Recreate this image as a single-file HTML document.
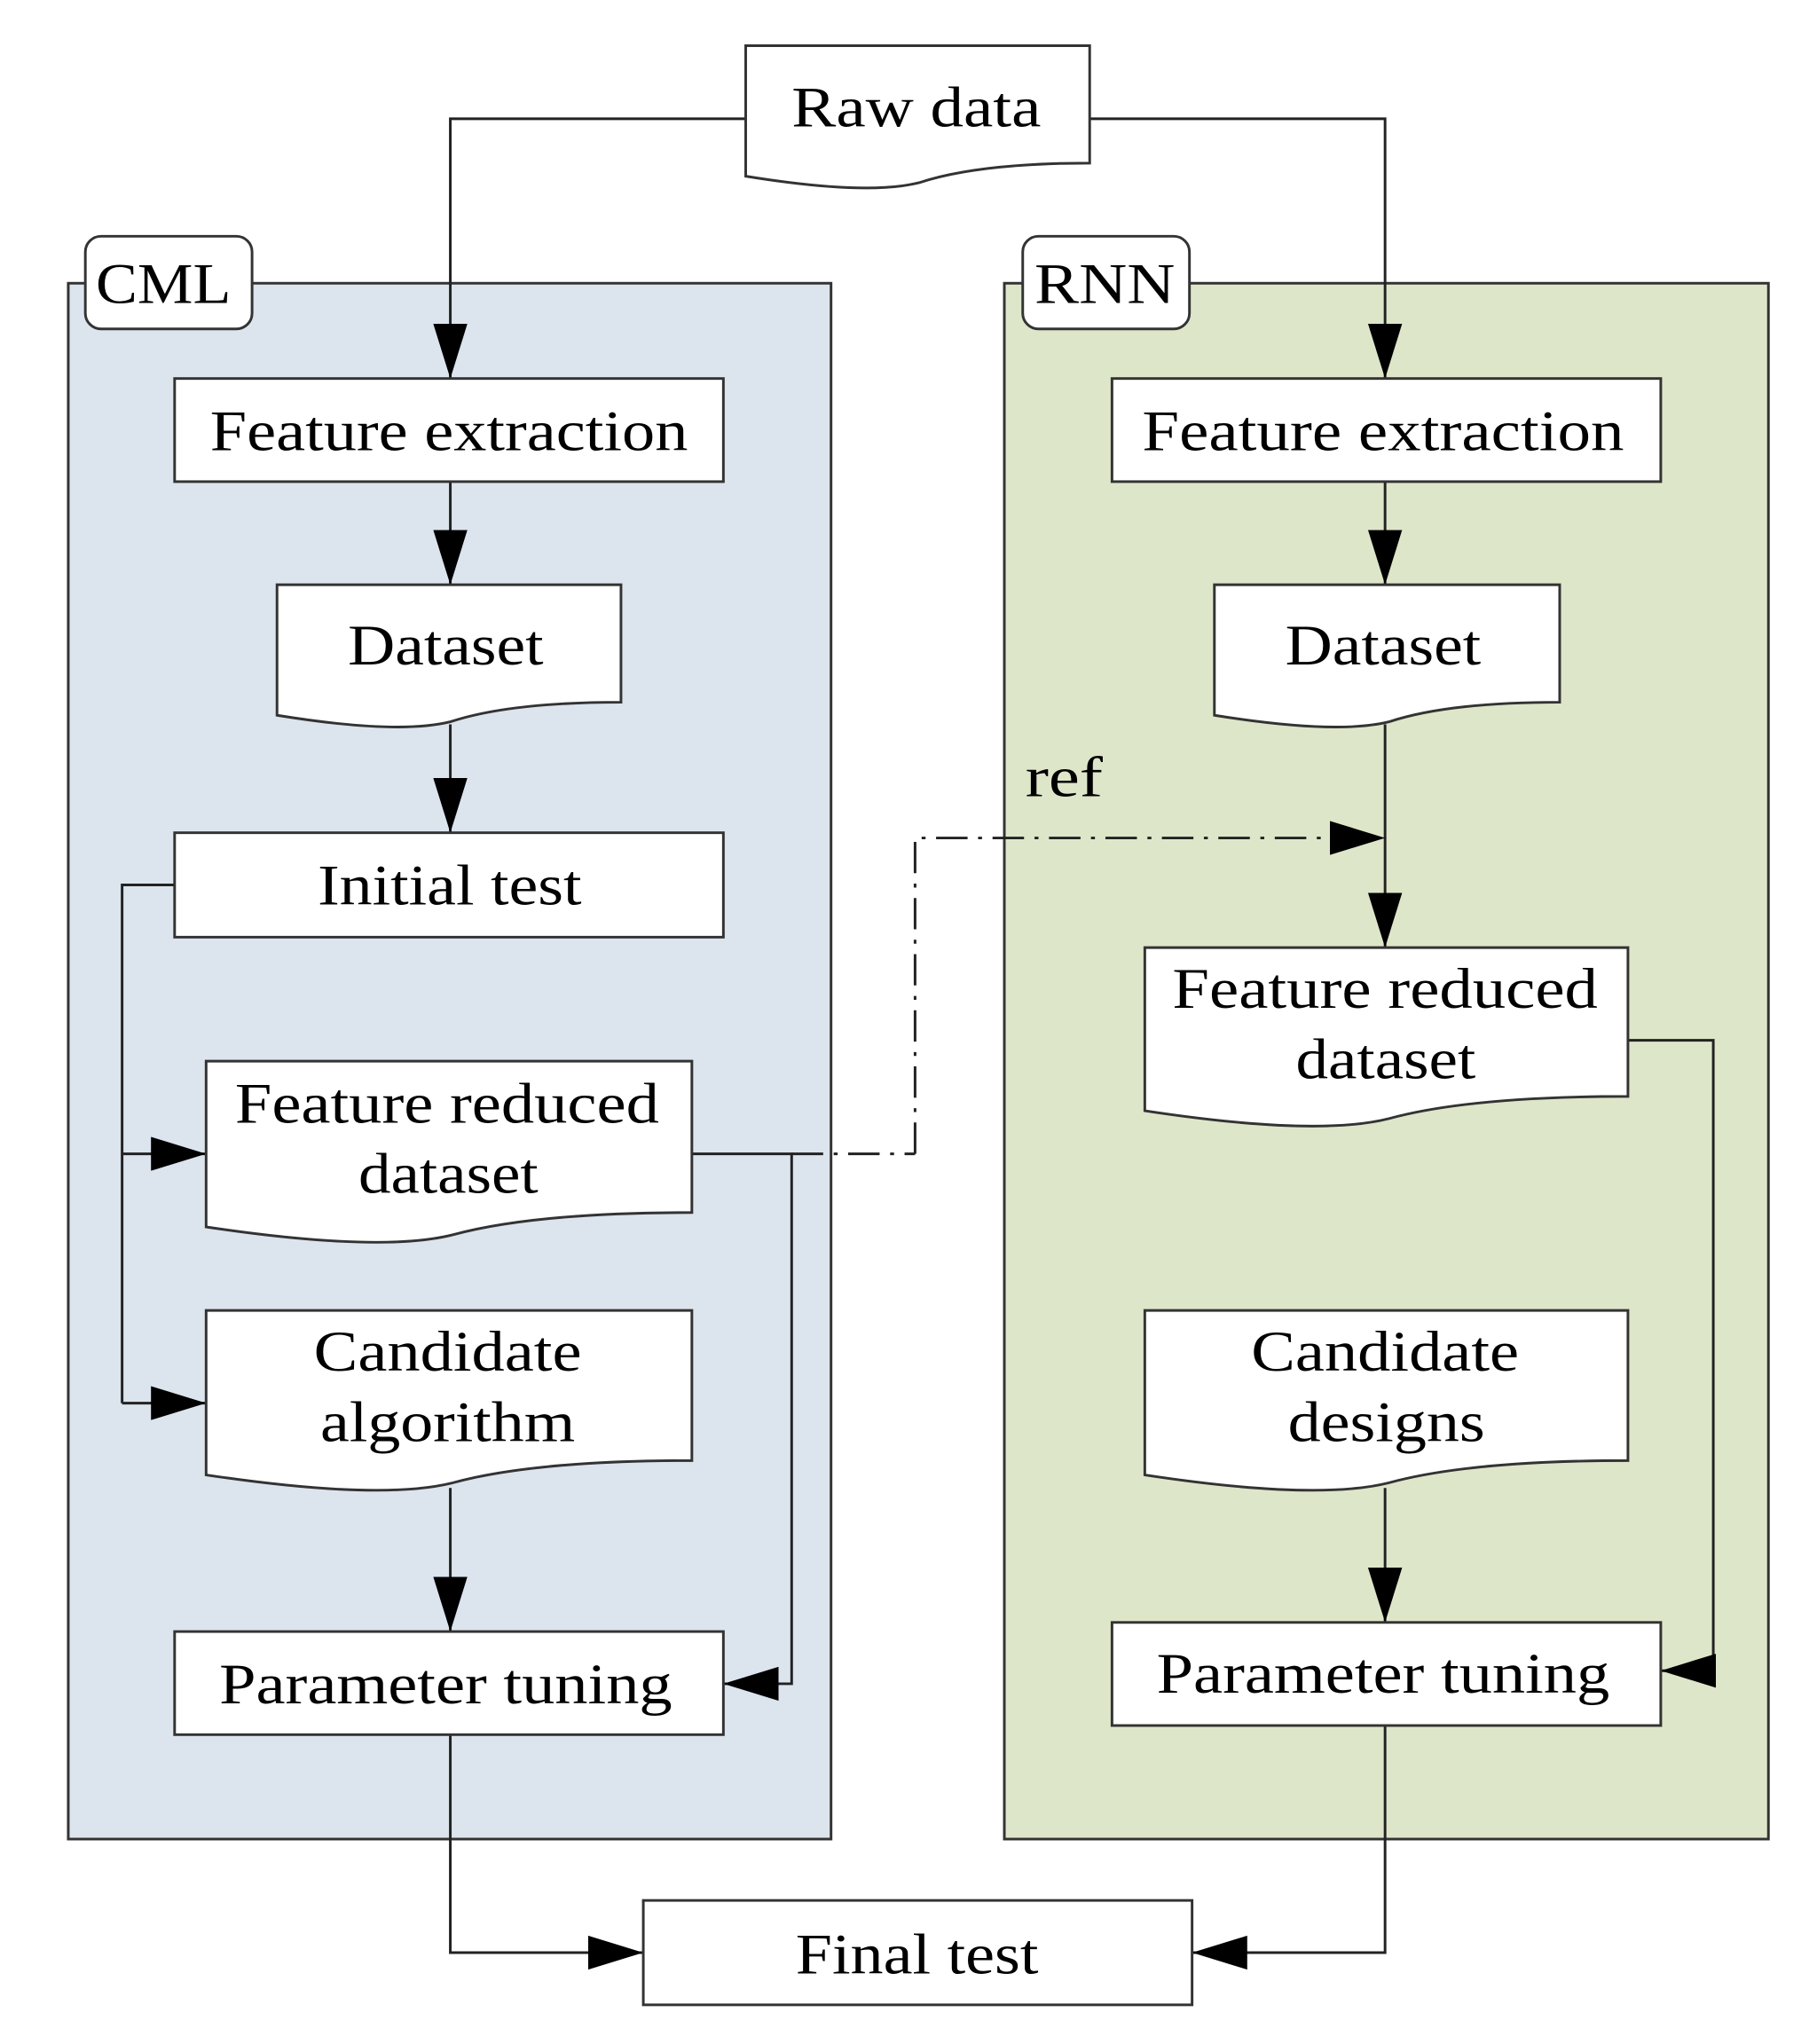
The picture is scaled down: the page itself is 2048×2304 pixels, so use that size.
<!DOCTYPE html>
<html><head><meta charset="utf-8"><style>html,body{margin:0;padding:0;background:#fff}svg{display:block}</style></head>
<body>
<svg width="2048" height="2304" viewBox="0 0 1384 1566" preserveAspectRatio="none" xmlns="http://www.w3.org/2000/svg" font-family="'Liberation Serif', serif" font-size="44" fill="#000">
<defs>
<marker id="a" markerWidth="42" markerHeight="26" refX="42" refY="13" orient="auto" markerUnits="userSpaceOnUse"><path d="M0,0 L42,13 L0,26 Z" fill="#000"/></marker>
</defs>
<!-- panels -->
<rect x="52" y="217" width="581" height="1192" fill="#dce4ee" stroke="#333" stroke-width="2"/>
<rect x="765" y="217" width="582" height="1192" fill="#dde6c9" stroke="#333" stroke-width="2"/>
<rect x="65" y="181" width="127" height="71" rx="12" fill="#fff" stroke="#333" stroke-width="2"/>
<rect x="779" y="181" width="127" height="71" rx="12" fill="#fff" stroke="#333" stroke-width="2"/>
<text x="73" y="232" textLength="103" lengthAdjust="spacingAndGlyphs">CML</text>
<text x="788" y="232" textLength="107" lengthAdjust="spacingAndGlyphs">RNN</text>

<g fill="none" stroke="#222" stroke-width="2">
<!-- raw data connectors -->
<path d="M568,91 H343 V290" marker-end="url(#a)"/>
<path d="M830,91 H1055 V290" marker-end="url(#a)"/>
<path d="M343,369 V448" marker-end="url(#a)"/>
<path d="M1055,369 V448" marker-end="url(#a)"/>
<path d="M343,555 V638" marker-end="url(#a)"/>
<path d="M1055,555 V726" marker-end="url(#a)"/>
<path d="M133,678 H93 V1075"/>
<path d="M93,884 H157" marker-end="url(#a)"/>
<path d="M93,1075 H157" marker-end="url(#a)"/>
<path d="M343,1140 V1250" marker-end="url(#a)"/>
<path d="M527,884 H603 V1290 H551" marker-end="url(#a)"/>
<path d="M697,884 V642 H1055" stroke-dasharray="24,8,3,8" marker-end="url(#a)"/>
<path d="M603,884 H697" stroke-dasharray="24,8,3,8"/>
<path d="M1240,797 H1305 V1280 H1265" marker-end="url(#a)"/>
<path d="M1055,1140 V1243" marker-end="url(#a)"/>
<path d="M343,1329 V1496 H490" marker-end="url(#a)"/>
<path d="M1055,1322 V1496 H908" marker-end="url(#a)"/>
</g>

<g fill="#fff" stroke="#333" stroke-width="2">
<!-- documents -->
<path d="M568,35 H830 V125 Q745,125 700,140 Q660,150 568,135 Z"/>
<path d="M211,448 H473 V538 Q388,538 343,553 Q303,563 211,548 Z"/>
<path d="M925,448 H1188 V538 Q1103,538 1058,553 Q1018,563 925,548 Z"/>
<path d="M157,813 H527 V929 Q407,929 345,946 Q290,960 157,940 Z"/>
<path d="M872,726 H1240 V840 Q1120,840 1058,857 Q1003,871 872,851 Z"/>
<path d="M157,1004 H527 V1119 Q407,1119 345,1136 Q290,1150 157,1130 Z"/>
<path d="M872,1004 H1240 V1119 Q1120,1119 1058,1136 Q1003,1150 872,1130 Z"/>
<!-- rects -->
<rect x="133" y="290" width="418" height="79"/>
<rect x="847" y="290" width="418" height="79"/>
<rect x="133" y="638" width="418" height="80"/>
<rect x="133" y="1250" width="418" height="79"/>
<rect x="847" y="1243" width="418" height="79"/>
<rect x="490" y="1456" width="418" height="80"/>
</g>

<g lengthAdjust="spacingAndGlyphs">
<text x="603" y="97" textLength="190" lengthAdjust="spacingAndGlyphs">Raw data</text>
<text x="160" y="345" textLength="364" lengthAdjust="spacingAndGlyphs">Feature extraction</text>
<text x="870" y="345" textLength="367" lengthAdjust="spacingAndGlyphs">Feature extraction</text>
<text x="265" y="509" textLength="149" lengthAdjust="spacingAndGlyphs">Dataset</text>
<text x="979" y="509" textLength="149" lengthAdjust="spacingAndGlyphs">Dataset</text>
<text x="781" y="610" textLength="59" lengthAdjust="spacingAndGlyphs">ref</text>
<text x="242" y="693" textLength="201" lengthAdjust="spacingAndGlyphs">Initial test</text>
<text x="179" y="860" textLength="323" lengthAdjust="spacingAndGlyphs">Feature reduced</text>
<text x="273" y="914" textLength="137" lengthAdjust="spacingAndGlyphs">dataset</text>
<text x="893" y="772" textLength="324" lengthAdjust="spacingAndGlyphs">Feature reduced</text>
<text x="987" y="826" textLength="137" lengthAdjust="spacingAndGlyphs">dataset</text>
<text x="239" y="1050" textLength="204" lengthAdjust="spacingAndGlyphs">Candidate</text>
<text x="244" y="1104" textLength="194" lengthAdjust="spacingAndGlyphs">algorithm</text>
<text x="953" y="1050" textLength="204" lengthAdjust="spacingAndGlyphs">Candidate</text>
<text x="981" y="1104" textLength="150" lengthAdjust="spacingAndGlyphs">designs</text>
<text x="167" y="1305" textLength="345" lengthAdjust="spacingAndGlyphs">Parameter tuning</text>
<text x="881" y="1297" textLength="345" lengthAdjust="spacingAndGlyphs">Parameter tuning</text>
<text x="606" y="1512" textLength="185" lengthAdjust="spacingAndGlyphs">Final test</text>
</g>
</svg>
</body></html>
